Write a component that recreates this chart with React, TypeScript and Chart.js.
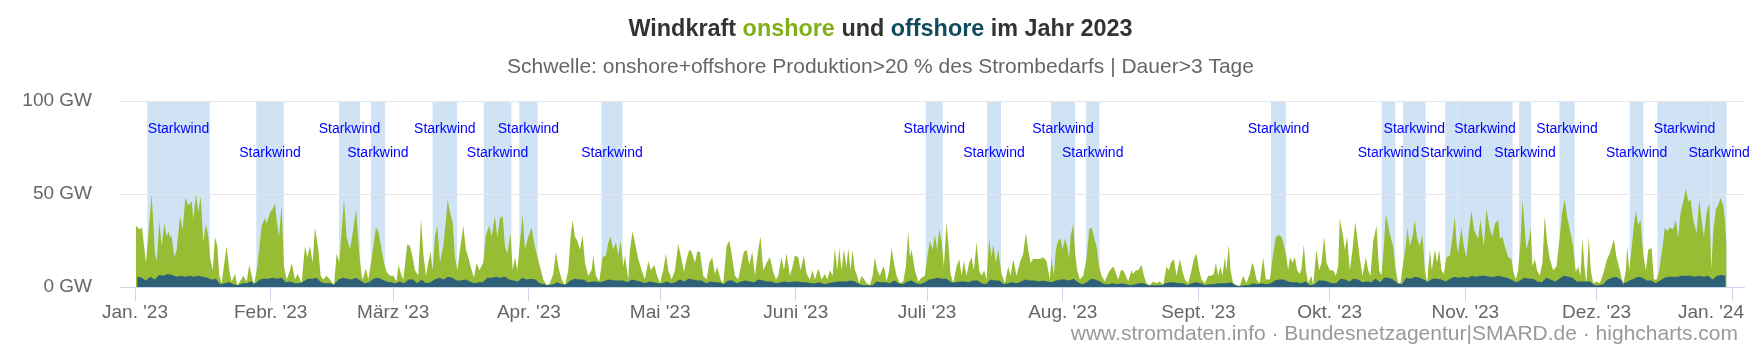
import { useEffect, useRef } from 'react';
import { Chart, registerables } from 'chart.js';

const FONT = "'Liberation Sans', Arial, Helvetica, sans-serif";

// x axis: day of year 2023 (0 = 1 Jan 00:00)
const monthTicks = [0, 31, 59, 90, 120, 151, 181, 212, 243, 273, 304, 334, 365];
const monthLabels = ["Jan. '23", "Febr. '23", "März '23", "Apr. '23", "Mai '23", "Juni '23", "Juli '23", "Aug. '23", "Sept. '23", "Okt. '23", "Nov. '23", "Dez. '23", "Jan. '24"];
const yTicks = [0, 50, 100];

// Starkwind periods (day of year)
const bandFrom = [2.8, 27.7, 46.6, 53.9, 68.0, 79.7, 87.8, 106.6, 180.7, 194.7, 209.3, 217.3, 259.6, 284.9, 289.8, 299.4, 302.2, 316.3, 325.5, 341.6, 347.9, 360.3];
const bandTo = [17.1, 34.0, 51.4, 57.1, 73.6, 86.0, 92.0, 111.4, 184.6, 197.9, 214.8, 220.4, 263.0, 288.0, 294.9, 302.2, 314.8, 319.0, 329.0, 344.7, 360.3, 363.7];
const bandLabel = 'Starkwind';

// onshore + offshore production (GW): day of year, value
const sumDay = [
  0.23, 0.99, 1.6, 2.5, 3.81, 4.57, 4.95, 5.56, 6.09, 6.7, 7.24, 7.62, 8.0, 8.38, 8.99, 9.52, 10.28, 10.89, 11.5, 12.19, 12.95, 13.33, 13.94, 14.47, 15.0, 15.61, 16.22, 16.76, 17.14, 17.75, 18.28, 18.81, 19.27, 19.8, 20.41, 20.94, 21.55, 22.09, 22.85, 23.38, 24.0, 24.75, 25.51, 26.12, 26.66, 27.19, 27.95, 28.94, 29.7, 30.08, 30.85, 31.45, 31.99, 32.37, 32.9, 33.51, 34.04, 34.65, 35.42, 35.8, 36.56, 37.17, 38.08, 38.84, 39.38, 39.98, 40.59, 41.13, 41.89, 42.42, 43.03, 43.79, 44.55, 45.47, 46.08, 46.69, 47.75, 48.36, 49.12, 49.89, 50.5, 51.26, 51.79,
  52.02, 52.78, 53.31, 54.07, 55.06, 55.6, 56.36, 56.89, 57.5, 58.26, 59.03, 59.79, 60.17, 60.93, 61.31, 62.22, 62.83, 63.44, 63.98, 64.74, 65.35, 65.88, 66.49, 67.02, 67.56, 68.01, 68.55, 69.08, 69.69, 70.45, 71.06, 71.44, 71.97, 72.58, 73.12, 73.65, 74.26, 75.02, 75.63, 76.16, 76.92, 77.46, 78.07, 78.68, 79.59, 80.2, 80.96, 81.49, 82.25, 82.79, 83.4, 84.01, 84.54, 85.07, 85.83, 86.29, 86.82, 87.36, 87.97, 88.58, 89.11, 89.87, 90.63, 91.17, 91.77, 92.54, 93.3, 94.06, 94.82, 95.58, 96.19, 96.73, 97.49, 98.25, 99.01, 99.54, 100.0, 100.53, 101.07, 101.68, 102.28, 102.82, 103.58, 104.34,
  104.72, 105.33, 106.09, 106.85, 107.62, 108.15, 108.68, 109.29, 109.9, 110.43, 110.97, 111.58, 111.96, 112.72, 113.1, 113.71, 114.39, 115.0, 115.77, 116.53, 117.29, 117.9, 118.66, 119.19, 119.95, 120.71, 121.33, 121.86, 122.62, 123.38, 124.14, 124.9, 125.44, 126.05, 126.66, 127.19, 127.95, 128.48, 129.09, 129.86, 130.62, 131.23, 131.91, 132.52, 133.05, 133.82, 134.43, 135.19, 135.8, 136.33, 137.09, 137.85, 138.61, 139.15, 139.76, 140.37, 141.05, 141.66, 142.42, 142.95, 143.56, 144.33, 145.09, 145.85, 146.46, 146.99, 147.75, 148.29, 148.9, 149.66, 150.27, 150.8, 151.56, 152.09, 152.86, 153.47, 154.23, 154.84, 155.37, 156.13, 156.89,
  157.65, 158.19, 158.8, 159.41, 159.94, 160.47, 160.93, 161.46, 161.99, 162.6, 162.99, 163.52, 163.98, 164.51, 164.89, 165.5, 166.03, 166.64, 167.18, 167.94, 168.55, 169.08, 169.61, 170.22, 170.98, 171.36, 171.74, 172.35, 172.89, 173.42, 174.03, 174.79, 175.55, 176.16, 176.7, 177.08, 177.46, 178.22, 178.98, 179.74, 180.5, 181.04, 181.65, 182.26, 182.79, 183.32, 183.78, 184.31, 184.84, 185.45, 185.91, 186.37, 186.98, 187.74, 188.35, 188.88, 189.41, 190.02, 190.63, 191.16, 191.7, 192.31, 192.92, 193.45, 194.06, 194.59, 195.2, 195.73, 196.12, 196.73, 197.26, 198.02, 198.78, 199.54, 200.08, 200.69, 201.45, 202.21, 202.97, 203.58, 204.11, 204.65, 205.26, 206.02, 206.78, 207.54, 208.3, 209.06,
  209.44, 209.98, 210.43, 210.97, 211.5, 211.96, 212.49, 213.03, 213.48, 213.79, 214.39, 214.85, 215.3, 215.91, 216.68, 217.44, 218.05, 218.58, 219.12, 219.73, 220.34, 220.87, 221.63, 222.16, 222.77, 223.53, 223.91, 224.68, 225.29, 225.82, 226.43, 226.96, 227.72, 228.1, 228.71, 229.25, 230.01, 230.54, 231.15, 231.92, 232.68, 233.44, 234.2, 234.96, 235.72, 236.25, 236.71, 237.4, 238.01, 238.77, 239.3, 239.91, 240.67, 241.43, 241.97, 242.57, 243.18, 243.72, 244.48, 245.24, 246.0, 246.53, 246.99, 247.52, 248.06, 248.51, 249.05, 249.43, 249.96, 250.34, 250.95, 251.71, 252.48, 253.24, 254.0, 254.76, 255.29, 255.67, 256.28, 257.04, 257.8, 258.41, 259.33, 259.94, 260.7, 261.46, 261.99,
  262.38, 262.99, 263.52, 263.9, 264.51, 265.04, 265.58, 266.18, 266.56, 267.1, 267.56, 268.09, 268.85, 269.23, 269.99, 270.6, 271.14, 271.75, 272.28, 273.04, 273.8, 274.41, 274.94, 275.32, 276.08, 276.47, 277.0, 277.61, 278.22, 278.83, 279.29, 279.9, 280.5, 281.26, 281.8, 282.33, 282.94, 283.7, 284.31, 284.84, 285.38, 285.83, 286.37, 286.9, 287.51, 288.12, 288.65, 289.19, 289.8, 290.4, 290.78, 291.32, 291.93, 292.46, 292.99, 293.6, 294.21, 294.75, 295.28, 295.89, 296.34, 297.03, 297.56, 298.02, 298.55, 299.09, 299.7, 300.46, 301.07, 301.6, 301.98, 302.36, 303.12, 303.66, 304.27, 304.88, 305.41, 305.94, 306.55, 306.93, 307.46, 308.23, 308.84, 309.6, 310.21, 310.74, 311.5, 311.88, 312.49, 313.02, 313.78, 314.55,
  315.0, 315.54, 316.07, 316.6, 317.06, 317.59, 317.97, 318.58, 318.96, 319.35, 319.88, 320.41, 321.02, 321.63, 322.16, 322.7, 323.31, 324.07, 324.83, 325.59, 326.12, 326.73, 327.26, 327.87, 328.64, 329.25, 329.78, 330.31, 330.77, 331.3, 331.68, 332.22, 332.67, 333.21, 333.97, 334.73, 335.49, 336.41, 337.03, 337.94, 338.55, 339.31, 340.08, 340.69, 340.99, 341.45, 341.98, 342.52, 342.97, 343.5, 344.04, 344.65, 345.26, 345.8, 346.57, 347.1, 347.71, 348.32, 349.09, 349.62, 350.15, 350.76, 351.52, 352.06, 352.67, 353.2, 353.81, 354.42, 354.95, 355.48, 356.09, 356.85, 357.46, 357.99, 358.53, 359.14, 359.75, 360.21, 360.66, 361.27, 361.81, 362.34, 362.95, 363.33, 363.71,
];
const sumGW = [
  33, 31, 32, 13, 50, 18, 14, 35, 22, 34, 27, 30, 27, 27, 16, 20, 38, 31, 48, 44, 46, 36, 50, 40, 49, 24, 34, 27, 16, 9, 27, 22, 6, 2, 13, 22, 9, 3, 7, 1, 3, 6, 3, 12, 6, 1, 11, 33, 37, 34, 40, 42, 45, 36, 27, 44, 11, 4, 9, 13, 4, 7, 2, 22, 16, 22, 13, 32, 20, 6, 4, 6, 4, 1, 18, 13, 47, 27, 20, 31, 42, 18, 6,
  4, 10, 4, 15, 32, 30, 20, 13, 8, 6, 6, 3, 12, 6, 4, 23, 22, 16, 9, 6, 37, 18, 6, 13, 19, 9, 27, 33, 13, 22, 36, 47, 40, 35, 16, 9, 20, 33, 20, 16, 9, 5, 13, 9, 13, 28, 33, 27, 38, 27, 37, 38, 22, 18, 29, 9, 16, 9, 24, 39, 20, 27, 32, 24, 18, 11, 4, 1, 2, 7, 19, 11, 4, 1, 9, 27, 36, 27, 25, 20, 28, 13, 6, 9,
  17, 6, 3, 16, 17, 24, 27, 20, 24, 17, 25, 11, 17, 4, 20, 30, 22, 15, 9, 4, 14, 9, 12, 7, 2, 9, 18, 9, 4, 9, 23, 15, 8, 15, 20, 19, 13, 19, 19, 6, 4, 13, 16, 7, 11, 4, 2, 22, 25, 18, 6, 4, 13, 19, 20, 12, 19, 6, 20, 27, 9, 13, 16, 8, 4, 6, 16, 9, 18, 6, 11, 17, 16, 9, 17, 7, 4, 9, 4, 10, 4,
  7, 4, 9, 6, 21, 9, 21, 9, 20, 11, 21, 9, 20, 9, 7, 2, 6, 4, 2, 1, 6, 16, 9, 6, 11, 9, 3, 9, 21, 13, 6, 2, 3, 11, 30, 16, 20, 9, 3, 5, 6, 16, 25, 20, 28, 20, 31, 25, 11, 35, 22, 7, 2, 11, 15, 6, 14, 6, 13, 16, 9, 24, 9, 6, 9, 4, 26, 16, 23, 13, 20, 7, 2, 11, 6, 15, 6, 13, 18, 29, 20, 13, 15, 15, 15, 16, 14, 4,
  16, 6, 20, 25, 26, 20, 26, 22, 15, 27, 34, 18, 9, 4, 6, 15, 31, 32, 27, 22, 11, 6, 3, 6, 9, 11, 9, 4, 9, 9, 6, 3, 9, 7, 9, 9, 12, 6, 2, 1, 3, 2, 3, 1, 11, 9, 13, 15, 6, 15, 9, 4, 2, 9, 15, 18, 9, 4, 2, 6, 6, 7, 13, 6, 11, 6, 16, 9, 23, 9, 2, 1, 0.5, 6, 2, 7, 13, 11, 4, 2, 16, 4, 4, 15, 27, 28, 27,
  24, 18, 9, 16, 13, 16, 9, 7, 10, 23, 9, 2, 6, 1, 20, 9, 13, 27, 13, 9, 9, 6, 11, 37, 27, 20, 27, 9, 20, 35, 27, 15, 6, 16, 9, 6, 24, 33, 9, 6, 22, 39, 33, 27, 22, 9, 2, 2, 13, 22, 32, 22, 27, 36, 26, 22, 28, 9, 2, 20, 9, 20, 13, 20, 9, 7, 16, 17, 27, 38, 24, 18, 32, 22, 16, 31, 41, 31, 28, 26, 36, 22, 42, 31, 27, 34, 36, 26, 27, 22, 16, 15,
  8, 4, 9, 24, 47, 31, 20, 26, 32, 11, 15, 9, 6, 13, 38, 24, 15, 9, 11, 27, 40, 47, 38, 31, 22, 8, 11, 6, 26, 9, 2, 27, 9, 2, 3, 2, 7, 15, 18, 26, 16, 9, 1, 9, 22, 9, 20, 33, 41, 33, 36, 18, 9, 20, 21, 4, 4, 9, 22, 32, 30, 32, 31, 36, 27, 40, 46, 53, 46, 47, 36, 29, 47, 36, 27, 40, 45, 9, 30, 42, 44, 48, 44, 36, 21,
];

// offshore production (GW), one value per day from 1 Jan
const offshoreGW = [
  5.5, 5, 3.5, 5.5, 4, 6.5, 6, 7, 6.5, 5.5,
  6, 5.5, 6, 5.5, 6, 5.5, 5, 4, 4.5, 1.5,
  2, 2.5, 1.5, 1, 2, 2, 3, 2, 4, 4.5,
  4.5, 5, 4.5, 5, 2.5, 3, 2, 2, 3, 4.5,
  4.5, 5, 2.5, 2, 2, 1.5, 4, 5, 4.5, 4,
  5, 3.5, 2, 2.5, 4.5, 5, 4, 3, 2.5, 2,
  3, 2, 4, 4, 2, 4, 2, 2.5, 4, 5,
  4, 5.5, 5, 3.5, 3.5, 4, 3, 2, 2.5, 2.5,
  5, 5, 5.5, 5, 5.5, 4, 3.5, 3, 5, 4,
  4.5, 4, 2, 1.5, 1, 1.5, 2.5, 1.5, 1.5, 3.5,
  4.5, 4, 4, 2.5, 3, 3, 2.5, 3.5, 4, 3.5,
  3.5, 3.5, 2.5, 4, 3.5, 3, 2, 3, 2.5, 2,
  2, 3, 2, 2.5, 4, 3, 4.5, 4, 3.5, 3.5,
  2, 3, 2.5, 2.5, 1.5, 3.5, 3.5, 2, 3, 3.5,
  3, 2.5, 4, 3.5, 3, 3, 2, 2.5, 3, 2.5,
  3, 3, 2.5, 2.5, 2, 2, 2.5, 1.5, 2, 2.5,
  3, 3, 3, 3.5, 3, 1.5, 1, 1, 1, 3,
  2.5, 2.5, 2, 3.5, 2, 1.5, 3, 3.5, 2, 1.5,
  2.5, 4, 4.5, 5, 4.5, 4.5, 2.5, 2.5, 3, 3,
  2.5, 3.5, 3.5, 2, 1.5, 4, 3.5, 3.5, 1.5, 2,
  2.5, 2, 3, 4, 3.5, 3.5, 3, 3.5, 3, 2.5,
  3.5, 4, 4, 3.5, 4.5, 2.5, 1.5, 2.5, 4.5, 4,
  3, 1.5, 1.5, 2, 1.5, 2, 1.5, 1, 1.5, 2,
  2, 1, 1, 1, 1, 2, 2.5, 2.5, 2, 2,
  1, 2, 2.5, 2, 1, 1.5, 1.5, 2, 2, 2,
  2.5, 1, 0.5, 1, 1, 2, 1.5, 2, 1.5, 2,
  3.5, 4, 4, 3, 2.5, 2.5, 2, 3, 1, 1.5,
  3.5, 3.5, 3, 2, 2, 4.5, 4, 3, 4.5, 4,
  2.5, 3, 2.5, 4.5, 2.5, 5, 5, 4, 2, 1.5,
  5, 4.5, 5.5, 5, 4, 3, 4.5, 4.5, 4, 3,
  4.5, 5.5, 5, 5.5, 5, 6, 5.5, 6, 6, 5.5,
  5.5, 6, 5.5, 5, 4, 2.5, 3.5, 5, 4.5, 4.5,
  3, 2.5, 5, 4, 3, 4.5, 6, 5.5, 5, 3,
  3, 3, 3, 1, 1, 1.5, 4, 5, 5.5, 4,
  2, 3.5, 4.5, 5.5, 5, 3.5, 3.5, 2, 3.5, 5,
  5.5, 5.5, 5.5, 6, 6, 6, 5.5, 6, 5.5, 6,
  4, 6, 6.5, 6,
];

const ONSHORE_COLOR = '#97bd35';
const OFFSHORE_COLOR = '#2e6178';
const BAND_COLOR = '#cfe3f5';
const RIGHT_EDGE = 1744;
const CREDITS_RIGHT = 1738;

// clip the offshore area (dataset 0) to the total area (dataset 1); registered before the Filler
const clipPlugin = {
  id: 'offshoreClip',
  beforeDatasetDraw(chart: any, args: any) {
    if (args.index !== 0) return;
    const pts = chart.getDatasetMeta(1).data;
    const ctx = chart.ctx;
    ctx.save();
    if (!pts.length) return;
    const base = chart.scales.y.getPixelForValue(0) + 1;
    ctx.beginPath();
    ctx.moveTo(pts[0].x, base);
    for (const p of pts) ctx.lineTo(p.x, p.y);
    ctx.lineTo(pts[pts.length - 1].x, base);
    ctx.closePath();
    ctx.clip();
  },
  afterDatasetDraw(chart: any, args: any) {
    if (args.index === 0) chart.ctx.restore();
  },
};
Chart.register(clipPlugin);
Chart.register(...registerables);

const bandsPlugin = {
  id: 'bands',
  beforeDraw(chart: any) {
    const { ctx, chartArea } = chart;
    const x = chart.scales.x;
    ctx.save();
    ctx.fillStyle = BAND_COLOR;
    for (let i = 0; i < bandFrom.length; i++) {
      const a = x.getPixelForValue(bandFrom[i]);
      const b = x.getPixelForValue(bandTo[i]);
      ctx.fillRect(a, chartArea.top, b - a, chartArea.bottom - chartArea.top);
    }
    ctx.restore();
  },
  afterDatasetsDraw(chart: any) {
    const { ctx, chartArea } = chart;
    const x = chart.scales.x;
    ctx.save();
    ctx.fillStyle = '#0000ff';
    ctx.font = `14px ${FONT}`;
    ctx.textAlign = 'center';
    ctx.textBaseline = 'middle';
    for (let i = 0; i < bandFrom.length; i++) {
      const c = (x.getPixelForValue(bandFrom[i]) + x.getPixelForValue(bandTo[i])) / 2;
      const y = chartArea.top + (i % 2 === 0 ? 28 : 52.5);
      ctx.fillText(bandLabel, c, y);
    }
    ctx.restore();
  },
};

const titleParts: [string, string][] = [
  ['Windkraft ', '#333333'],
  ['onshore', '#7fb01c'],
  [' und ', '#333333'],
  ['offshore', '#0f4a5e'],
  [' im Jahr 2023', '#333333'],
];
const subtitleText = 'Schwelle: onshore+offshore Produktion>20 % des Strombedarfs | Dauer>3 Tage';
const creditsText = 'www.stromdaten.info · Bundesnetzagentur|SMARD.de · highcharts.com';

const textPlugin = {
  id: 'texts',
  afterDraw(chart: any) {
    const { ctx, width } = chart;
    ctx.save();
    ctx.textBaseline = 'middle';
    // month labels (edge label kept inside the chart, like the original)
    const xs = chart.scales.x;
    ctx.font = `19px ${FONT}`;
    ctx.fillStyle = '#666666';
    ctx.textAlign = 'center';
    for (let i = 0; i < monthTicks.length; i++) {
      const w = ctx.measureText(monthLabels[i]).width;
      let c = xs.getPixelForValue(monthTicks[i]);
      if (c + w / 2 > RIGHT_EDGE) c = RIGHT_EDGE - w / 2;
      ctx.fillText(monthLabels[i], c, 313);
    }
    ctx.font = `bold 23.4px ${FONT}`;
    const full = titleParts.map((p) => p[0]).join('');
    let tx = width / 2 - ctx.measureText(full).width / 2;
    ctx.textAlign = 'left';
    for (const [t, c] of titleParts) {
      ctx.fillStyle = c;
      ctx.fillText(t, tx, 30);
      tx += ctx.measureText(t).width;
    }
    ctx.font = `21px ${FONT}`;
    ctx.fillStyle = '#666666';
    ctx.textAlign = 'center';
    ctx.fillText(subtitleText, width / 2, 67);
    ctx.font = `21px ${FONT}`;
    ctx.fillStyle = '#999999';
    ctx.textAlign = 'right';
    ctx.fillText(creditsText, CREDITS_RIGHT, 334);
    ctx.restore();
  },
};

export default function App() {
  const ref = useRef<HTMLCanvasElement | null>(null);
  useEffect(() => {
    document.body.style.margin = '0';
    const canvas = ref.current;
    if (!canvas) return;
    const total = sumDay.map((d, i) => ({ x: d, y: sumGW[i] }));
    const off = offshoreGW.map((v, i) => ({ x: i + 0.5, y: v }));
    const chart = new Chart(canvas, {
      type: 'line',
      data: {
        datasets: [
          { label: 'offshore', data: off, backgroundColor: OFFSHORE_COLOR, borderColor: OFFSHORE_COLOR, borderWidth: 0, fill: 'origin', pointRadius: 0, tension: 0 },
          { label: 'onshore', data: total, backgroundColor: ONSHORE_COLOR, borderColor: ONSHORE_COLOR, borderWidth: 0, fill: 'origin', pointRadius: 0, tension: 0 },
        ],
      },
      options: {
        responsive: false,
        animation: false,
        devicePixelRatio: 1,
        parsing: false,
        layout: { padding: { top: 101, right: 1761 - RIGHT_EDGE, left: 0, bottom: 0 } },
        plugins: { legend: { display: false }, tooltip: { enabled: false }, title: { display: false } },
        scales: {
          x: {
            type: 'linear',
            min: -3.43,
            max: (RIGHT_EDGE - 135) / 4.376,
            afterBuildTicks: (s: any) => {
              s.ticks = monthTicks.map((v) => ({ value: v }));
            },
            afterFit: (s: any) => {
              s.height = 65;
              s.paddingLeft = 0;
              s.paddingRight = 0;
            },
            ticks: { display: false, autoSkip: false, maxRotation: 0 },
            grid: { drawOnChartArea: false, drawTicks: true, tickLength: 14, color: '#ccd6eb', lineWidth: 1 },
            border: { display: true, color: '#ccd6eb', width: 1 },
          },
          y: {
            type: 'linear',
            min: 0,
            max: 100,
            afterBuildTicks: (s: any) => {
              s.ticks = yTicks.map((v) => ({ value: v }));
            },
            afterFit: (s: any) => {
              s.width = 120;
            },
            ticks: {
              padding: 28,
              color: '#666666',
              font: { family: FONT, size: 19 },
              callback: (v: any) => `${v} GW`,
            },
            grid: { color: '#e6e6e6', lineWidth: 1, drawTicks: false },
            border: { display: false },
          },
        },
      },
      plugins: [bandsPlugin, textPlugin],
    } as any);
    return () => chart.destroy();
  }, []);
  return <canvas ref={ref} width={1761} height={352} style={{ display: 'block', width: 1761, height: 352 }} />;
}
